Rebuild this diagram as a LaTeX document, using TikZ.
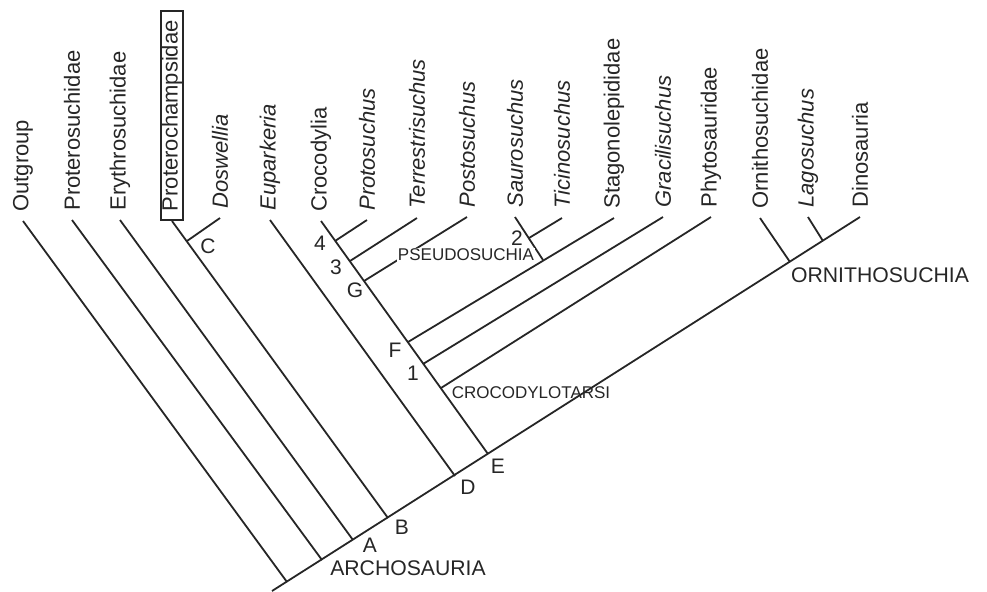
\documentclass[tikz,border=0pt]{standalone}
\usepackage{fontspec}
\setmainfont{Liberation Sans}
\begin{document}
\begin{tikzpicture}[x=0.5pt, y=-0.5pt,
  branch/.style={line width=0.9pt, black!85},
  taxon/.style={rotate=90, anchor=west, inner xsep=4.5pt, inner ysep=1pt,
    font=\fontsize{11}{13}\selectfont, text=black!85},
  genus/.style={taxon, font=\fontsize{11}{13}\selectfont\itshape},
  cladename/.style={font=\fontsize{10.6}{12}\selectfont, text=black!85, inner sep=0pt},
  smallclade/.style={font=\fontsize{8.5}{10}\selectfont, text=black!85, inner sep=0.5pt},
  nodelabel/.style={font=\fontsize{10.5}{12}\selectfont, text=black!85, inner sep=0pt}]
  \useasboundingbox (0,0) rectangle (987,591);

  % terminal taxa
  \node[taxon] (outg) at (23,221) {Outgroup};
  \node[taxon] (prot) at (72,220) {Proterosuchidae};
  \node[taxon] (eryt) at (120,220) {Erythrosuchidae};
  \node[taxon, draw=black!85, line width=0.9pt, inner ysep=0.5pt] (pcha) at (172,221) {Proterochampsidae};
  \node[genus] (dosw) at (220,218) {Doswellia};
  \node[genus] (eupa) at (270,220) {Euparkeria};
  \node[taxon] (croc) at (321,221) {Crocodylia};
  \node[genus] (prts) at (367,220) {Protosuchus};
  \node[genus] (terr) at (417,218) {Terrestrisuchus};
  \node[genus] (post) at (467,217) {Postosuchus};
  \node[genus] (saur) at (515,217) {Saurosuchus};
  \node[genus] (tici) at (562,218) {Ticinosuchus};
  \node[taxon] (stag) at (614,218) {Stagonolepididae};
  \node[genus] (grac) at (663,217) {Gracilisuchus};
  \node[taxon] (phyt) at (711,217) {Phytosauridae};
  \node[taxon] (orni) at (760,218) {Ornithosuchidae};
  \node[genus] (lago) at (808,217) {Lagosuchus};
  \node[taxon] (dino) at (860,217) {Dinosauria};

  % branching points
  \coordinate (base) at (272,591);
  \coordinate (root) at (287,582);
  \coordinate (ptn) at (322,560);
  \coordinate (nA) at (353,540);
  \coordinate (nB) at (388,518);
  \coordinate (nC) at (187,241);
  \coordinate (nD) at (455,476);
  \coordinate (nE) at (488,454);
  \coordinate (n4) at (335,241);
  \coordinate (n3) at (350,261);
  \coordinate (nG) at (364,281);
  \coordinate (nF) at (408,342);
  \coordinate (n1) at (423,364);
  \coordinate (crtr) at (441,388);
  \coordinate (psdo) at (543,260);
  \coordinate (n2) at (529,238);
  \coordinate (orsu) at (790,262);
  \coordinate (lgdn) at (823,241);

  % branches
  \draw[branch] (base) -- (dino.west);
  \draw[branch] (outg.west) -- (root);
  \draw[branch] (prot.west) -- (ptn);
  \draw[branch] (eryt.west) -- (nA);
  \draw[branch] (pcha.west) -- (nB);
  \draw[branch] (dosw.west) -- (nC);
  \draw[branch] (eupa.west) -- (nD);
  \draw[branch] (croc.west) -- (nE);
  \draw[branch] (prts.west) -- (n4);
  \draw[branch] (terr.west) -- (n3);
  \draw[branch] (post.west) -- (nG);
  \draw[branch] (stag.west) -- (nF);
  \draw[branch] (saur.west) -- (psdo);
  \draw[branch] (tici.west) -- (n2);
  \draw[branch] (grac.west) -- (n1);
  \draw[branch] (phyt.west) -- (crtr);
  \draw[branch] (orni.west) -- (orsu);
  \draw[branch] (lago.west) -- (lgdn);

  % node labels
  \node[nodelabel] (labC) at (208,246) {C};
  \node[nodelabel] (lab4) at (320,243) {4};
  \node[nodelabel] (lab3) at (336,267) {3};
  \node[nodelabel] (labG) at (355,290) {G};
  \node[nodelabel] (labF) at (395,350) {F};
  \node[nodelabel] (lab1) at (413,373) {1};
  \node[nodelabel] (lab2) at (517,238) {2};
  \node[nodelabel] (labA) at (370,545) {A};
  \node[nodelabel] (labB) at (402,527) {B};
  \node[nodelabel] (labD) at (468,487) {D};
  \node[nodelabel] (labE) at (498,466) {E};

  % clade names
  \node[cladename] (arch) at (408,568) {ARCHOSAURIA};
  \node[cladename] (ornl) at (880,275) {ORNITHOSUCHIA};
  \node[smallclade, fill=white] (psdl) at (466,255) {PSEUDOSUCHIA};
  \node[smallclade] (crtl) at (531,393) {CROCODYLOTARSI};
\end{tikzpicture}
\end{document}
